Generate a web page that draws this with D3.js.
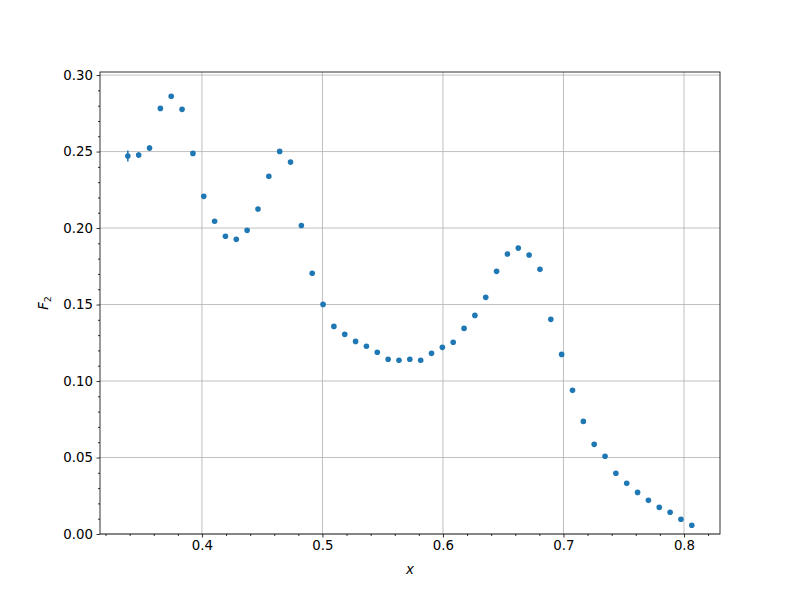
<!DOCTYPE html>
<html><head><meta charset="utf-8">
<script src="https://cdn.jsdelivr.net/npm/d3@7"></script>
<style>body{margin:0;background:#fff}svg{display:block}text{font-family:"DejaVu Sans",sans-serif}</style>
</head><body><svg id="c" width="800" height="600"></svg>
<script>
const xValues = [0.3385,0.3475,0.3565,0.3655,0.3745,0.3835,0.3925,0.4015,0.4105,0.4195,0.4285,0.4375,0.4465,0.4555,0.4645,0.4735,0.4825,0.4915,0.5005,0.5095,0.5185,0.5275,0.5365,0.5455,0.5545,0.5635,0.5725,0.5815,0.5905,0.5995,0.6085,0.6175,0.6265,0.6355,0.6445,0.6535,0.6625,0.6715,0.6805,0.6895,0.6985,0.7075,0.7165,0.7255,0.7345,0.7435,0.7525,0.7615,0.7705,0.7795,0.7885,0.7975,0.8065];
const f2Values = [0.2471,0.2477,0.2523,0.2782,0.2861,0.2776,0.2488,0.2207,0.2044,0.1946,0.1926,0.1985,0.2124,0.2338,0.2501,0.2431,0.2017,0.1704,0.1501,0.1357,0.1305,0.1259,0.1227,0.1188,0.1142,0.1135,0.1142,0.1135,0.1181,0.1220,0.1253,0.1344,0.1429,0.1547,0.1717,0.1830,0.1869,0.1824,0.1730,0.1403,0.1174,0.0939,0.0736,0.0586,0.0508,0.0397,0.0331,0.0272,0.0220,0.0174,0.0142,0.0096,0.0057];
const f2Errors = [0.0036,0.0018,0.0018,0.0010,0.0010,0.0010,0.0008,0.0008,0.0008,0.0008,0.0008,0.0008,0.0014,0.0015,0.0014,0.0012,0.0008,0.0008,0.0008,0.0007,0.0007,0.0007,0.0007,0.0007,0.0007,0.0007,0.0007,0.0007,0.0007,0.0007,0.0007,0.0007,0.0008,0.0008,0.0010,0.0014,0.0015,0.0014,0.0014,0.0008,0.0007,0.0006,0.0006,0.0006,0.0006,0.0005,0.0005,0.0005,0.0005,0.0005,0.0005,0.0005,0.0005];
const xTicks = [0.4,0.5,0.6,0.7,0.8];
const yTicks = [0.00,0.05,0.10,0.15,0.20,0.25,0.30];

const L=100,R=720,T=72,B=534;
const x = d3.scaleLinear().domain([0.3154,0.8299]).range([L,R]);
const y = d3.scaleLinear().domain([0,0.3020]).range([B,T]);
const svg = d3.select("#c");
const col = "#1f77b4";

// grid
svg.append("g").selectAll("line").data(xTicks).join("line")
  .attr("x1",d=>x(d)).attr("x2",d=>x(d)).attr("y1",T).attr("y2",B)
  .attr("stroke","#b0b0b0").attr("stroke-width",0.8);
svg.append("g").selectAll("line").data(yTicks).join("line")
  .attr("x1",L).attr("x2",R).attr("y1",d=>y(d)).attr("y2",d=>y(d))
  .attr("stroke","#b0b0b0").attr("stroke-width",0.8);

// axes
const xMinor = d3.range(0.32,0.83,0.02).filter(v=>Math.abs(v*10-Math.round(v*10))>1e-6);
const yMinor = d3.range(0.0,0.302,0.01).filter(v=>Math.abs(v*20-Math.round(v*20))>1e-6);
const xa = svg.append("g").attr("transform",`translate(0,${B})`)
  .call(d3.axisBottom(x).tickValues(xTicks).tickFormat(d3.format(".1f")).tickSizeInner(3.5).tickSizeOuter(0).tickPadding(3.5));
const xm = svg.append("g").attr("transform",`translate(0,${B})`)
  .call(d3.axisBottom(x).tickValues(xMinor).tickFormat("").tickSizeInner(2).tickSizeOuter(0));
const ya = svg.append("g").attr("transform",`translate(${L},0)`)
  .call(d3.axisLeft(y).tickValues(yTicks).tickFormat(d3.format(".2f")).tickSizeInner(3.5).tickSizeOuter(0).tickPadding(3.5));
const ym = svg.append("g").attr("transform",`translate(${L},0)`)
  .call(d3.axisLeft(y).tickValues(yMinor).tickFormat("").tickSizeInner(2).tickSizeOuter(0));
[xa,xm,ya,ym].forEach(g=>{
  g.select(".domain").remove();
  g.selectAll("line").attr("stroke","#000").attr("stroke-width",0.8);
  g.selectAll("text").attr("font-size","13.33px").attr("fill","#000").attr("font-family","DejaVu Sans");
});

// frame
svg.append("rect").attr("x",L).attr("y",T).attr("width",R-L).attr("height",B-T)
  .attr("fill","none").attr("stroke","#000").attr("stroke-width",0.8);

// error bars and points
const data = xValues.map((v,i)=>({x:v,y:f2Values[i],e:f2Errors[i]}));
svg.append("g").selectAll("line").data(data).join("line")
  .attr("x1",d=>x(d.x)).attr("x2",d=>x(d.x))
  .attr("y1",d=>y(d.y-d.e)).attr("y2",d=>y(d.y+d.e))
  .attr("stroke",col).attr("stroke-width",1.5);
svg.append("g").selectAll("circle").data(data).join("circle")
  .attr("cx",d=>x(d.x)).attr("cy",d=>y(d.y)).attr("r",2.8).attr("fill",col);

// labels
svg.append("text").attr("x",(L+R)/2).attr("y",574).attr("text-anchor","middle")
  .attr("font-size","13.33px").attr("font-style","italic").text("x");
const yl = svg.append("text").attr("transform",`translate(48,${(T+B)/2}) rotate(-90)`)
  .attr("text-anchor","middle").attr("font-size","13.33px").attr("font-style","italic");
yl.append("tspan").text("F");
yl.append("tspan").attr("font-size","9.5px").attr("dy",3).attr("font-style","normal").text("2");
</script></body></html>
